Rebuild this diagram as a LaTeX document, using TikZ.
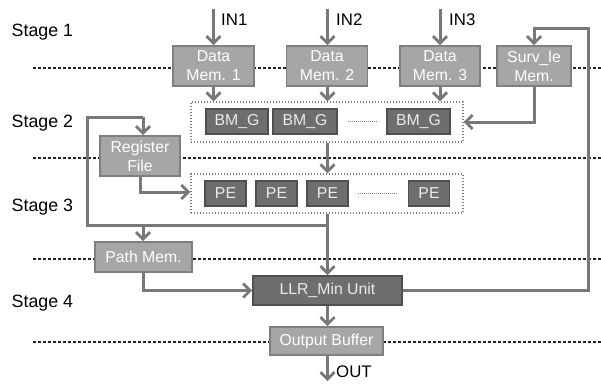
\documentclass[tikz,border=0pt]{standalone}
\usepackage{fontspec}
\setmainfont{Liberation Sans}
\usetikzlibrary{arrows.meta}
\definecolor{lightbox}{HTML}{A6A6A6}
\definecolor{lightborder}{HTML}{7F7F7F}
\definecolor{darkbox}{HTML}{6E6E6E}
\definecolor{darkborder}{HTML}{4F4F4F}
\definecolor{arrowgray}{HTML}{787878}
\definecolor{sepblack}{HTML}{222222}
\begin{document}
\begin{tikzpicture}[x=1pt,y=-1pt,
  lbox/.style={draw=lightborder,fill=lightbox,line width=1.6pt,text=white,inner sep=0pt,
    font=\fontsize{15.8}{19}\selectfont,align=center},
  dbox/.style={draw=darkborder,fill=darkbox,line width=1.6pt,text=white!92!black,inner sep=0pt,
    font=\fontsize{15.8}{19}\selectfont,align=center,minimum height=25pt},
  grp/.style={draw=lightborder,line width=1.4pt,dash pattern=on 1.4pt off 1.6pt,inner sep=0pt},
  sep/.style={draw=sepblack,line width=2.8pt,dash pattern=on 3pt off 2pt},
  fine/.style={draw=lightborder,line width=0.8pt,dash pattern=on 1pt off 1pt},
  conn/.style={draw=arrowgray,line width=3pt},
  arr/.style={conn,-{Straight Barb[length=7pt,width=14pt,line width=2.8pt]}},
  stagelbl/.style={anchor=west,inner sep=0pt,font=\fontsize{17.8}{20}\selectfont},
  iolbl/.style={anchor=west,inner sep=0pt,font=\fontsize{16.8}{19}\selectfont}
]
\useasboundingbox (0,0) rectangle (601,383);

% stage separators
\coordinate (s1a) at (33,68);  \coordinate (s1b) at (601,68);
\coordinate (s2a) at (33,158); \coordinate (s2b) at (601,158);
\coordinate (s3a) at (33,259); \coordinate (s3b) at (601,259);
\coordinate (s4a) at (33,342); \coordinate (s4b) at (601,342);
\draw[sep] (s1a) -- (s1b);
\draw[sep] (s2a) -- (s2b);
\draw[sep] (s3a) -- (s3b);
\draw[sep] (s4a) -- (s4b);

% stage labels
\node[stagelbl] (st1) at (11.5,32) {Stage 1};
\node[stagelbl] (st2) at (11.5,123) {Stage 2};
\node[stagelbl] (st3) at (11.5,207) {Stage 3};
\node[stagelbl] (st4) at (11.5,303) {Stage 4};

% group boxes
\node[grp,minimum width=272pt,minimum height=40pt] (bmgrp) at (327,122) {};
\node[grp,minimum width=272pt,minimum height=39pt] (pegrp) at (327,193.5) {};

% stage 1 memories
\node[lbox,minimum width=81pt,minimum height=40pt] (dm1) at (213.5,66) {Data\\Mem. 1};
\node[lbox,minimum width=81pt,minimum height=40pt] (dm2) at (327,66) {Data\\Mem. 2};
\node[lbox,minimum width=80pt,minimum height=40pt] (dm3) at (440,66) {Data\\Mem. 3};
\node[lbox,minimum width=74pt,minimum height=40pt] (surv) at (534,66) {Surv\_le\\Mem.};

% BM_G units
\node[dbox,minimum width=62pt] (bm1) at (237,121.5) {BM\_G};
\node[dbox,minimum width=64pt] (bm2) at (305,121.5) {BM\_G};
\node[dbox,minimum width=63pt] (bm3) at (418.5,121.5) {BM\_G};
\coordinate (bmd1) at (348,121.5); \coordinate (bmd2) at (377,121.5);
\draw[fine] (bmd1) -- (bmd2);

% register file
\node[lbox,minimum width=80pt,minimum height=40pt] (reg) at (140,156) {Register\\File};

% PEs
\node[dbox,minimum width=41pt] (pe1) at (225.5,193.5) {PE};
\node[dbox,minimum width=41pt] (pe2) at (276.5,193.5) {PE};
\node[dbox,minimum width=41pt] (pe3) at (327.5,193.5) {PE};
\node[dbox,minimum width=41pt] (pe4) at (429,193.5) {PE};
\coordinate (ped1) at (358,193.5); \coordinate (ped2) at (398,193.5);
\draw[fine] (ped1) -- (ped2);

% path memory, LLR, output buffer
\node[lbox,minimum width=97pt,minimum height=30pt] (path) at (143.5,257) {Path Mem.};
\node[dbox,minimum width=149pt,minimum height=29pt] (llr) at (327.5,290.5) {LLR\_Min Unit};
\node[lbox,minimum width=113pt,minimum height=28pt] (obuf) at (326.5,341) {Output Buffer};

% inputs
\coordinate (in1) at (213.5,9);
\coordinate (in2) at (327.5,9);
\coordinate (in3) at (440,9);
\draw[arr] (in1) -- (dm1.north);
\draw[arr] (in2) -- (dm2.north -| in2);
\draw[arr] (in3) -- (dm3.north);
\node[iolbl] (lin1) at (221,20) {IN1};
\node[iolbl] (lin2) at (336,20) {IN2};
\node[iolbl] (lin3) at (449,20) {IN3};

% memories to BM group
\draw[arr] (dm1.south) -- (dm1.south |- bmgrp.north);
\draw[arr] (dm2.south -| in2) -- (in2 |- bmgrp.north);
\draw[arr] (dm3.south) -- (dm3.south |- bmgrp.north);
\draw[arr] (surv.south) |- (bmgrp.east);

% BM group to PE group
\draw[arr] (bmgrp.south -| in2) -- (in2 |- pegrp.north);

% register file to PE group
\draw[arr] (reg.south) |- (pegrp.west |- 0,192);

% PE group to LLR
\draw[arr] (pegrp.south -| in2) -- (llr.north -| in2);

% feedback loop to register file and path memory
\coordinate (jn) at (327.5,225);
\coordinate (lp1) at (87,225);
\coordinate (lp2) at (87,117);
\coordinate (lp3) at (143,117);
\coordinate (pj) at (143,225);
\draw[conn,line join=miter] (jn) -- (lp1) -- (lp2) -- (lp3);
\draw[arr] (lp3) -- (reg.north -| lp3);
\draw[arr] (pj) -- (path.north -| pj);

% path memory to LLR
\draw[arr] (path.south -| pj) |- (llr.west);

% LLR feedback to survivor memory
\coordinate (fb1) at (588,290.5);
\coordinate (fb2) at (588,28);
\coordinate (fb3) at (534,28);
\draw[arr] (llr.east) -- (fb1) -- (fb2) -- (fb3) -- (surv.north);

% LLR to output buffer and out
\draw[arr] (llr.south -| in2) -- (obuf.north -| in2);
\coordinate (outc) at (327.5,381);
\draw[arr] (obuf.south -| in2) -- (outc);
\node[iolbl] (lout) at (336,372) {OUT};
\end{tikzpicture}
\end{document}
